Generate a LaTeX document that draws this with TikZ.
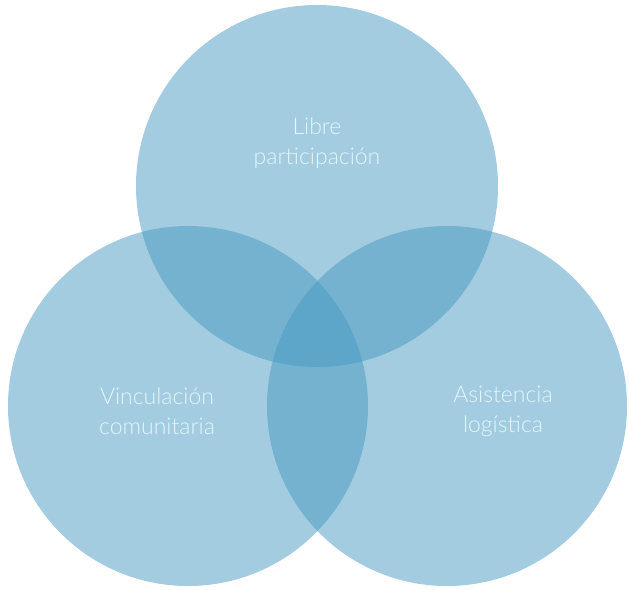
\documentclass[tikz,border=0pt]{standalone}
\usepackage{fontspec}
\setmainfont{Lato}[UprightFont={* Light}]
\definecolor{venn}{RGB}{71,153,193}
\definecolor{vtext}{RGB}{228,246,250}
\begin{document}
\begin{tikzpicture}[x=1pt,y=-1pt]
\tikzset{vcircle/.style={fill=venn,fill opacity=0.5,draw=none},
  vlabel/.style={text=vtext,font=\fontsize{23}{30}\selectfont,align=center}}
\useasboundingbox (0,0) rectangle (629,589);
\fill[vcircle] (317,186) circle[radius=181];
\fill[vcircle] (188,406) circle[radius=180];
\fill[vcircle] (447,406) circle[radius=180];
\node[vlabel] (top) at (317,143) {Libre\\participación};
\node[vlabel] (left) at (157,411) {Vinculación\\comunitaria};
\node[vlabel] (right) at (503,411) {Asistencia\\logística};
\end{tikzpicture}
\end{document}
